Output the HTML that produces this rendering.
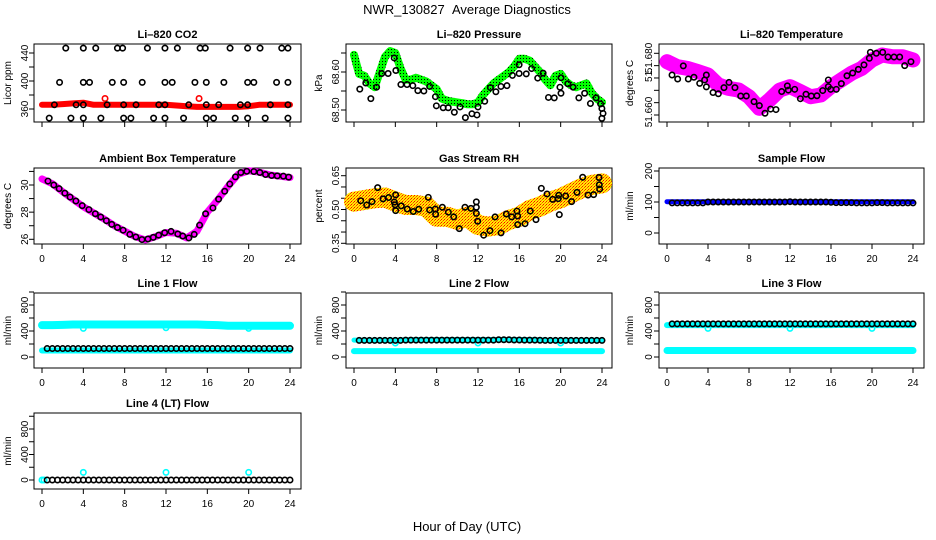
<!DOCTYPE html>
<html><head><meta charset="utf-8"><style>
body{margin:0;background:#fff;}
svg{display:block;font-family:"Liberation Sans",sans-serif;}
</style></head><body>
<svg id="chart" width="936" height="540" viewBox="0 0 936 540" xmlns="http://www.w3.org/2000/svg">
<defs>
<pattern id="greenDots" width="3" height="3" patternUnits="userSpaceOnUse"><rect width="3" height="3" fill="#00ff00"/><rect x="1" y="1" width="1" height="1" fill="#000"/></pattern>
<pattern id="orangeDots" width="3" height="3" patternUnits="userSpaceOnUse"><rect width="3" height="3" fill="#ffee00"/><rect x="0" y="0" width="1" height="1" fill="#ff0000"/><rect x="2" y="1" width="1" height="1" fill="#ff4000"/><rect x="1" y="2" width="1" height="1" fill="#ff8000"/></pattern>
</defs>
<rect width="936" height="540" fill="#fff"/>
<text x="467" y="14" text-anchor="middle" font-size="13">NWR_130827&#160;&#160;Average Diagnostics</text>
<text x="467" y="531" text-anchor="middle" font-size="13">Hour of Day (UTC)</text>
</svg>
<script>
// ---------- data ----------
const bandHours = [0,1,2,3,4,5,6,7,8,9,10,11,12,13,14,15,16,17,18,19,20,21,22,23,24];
const halfHours = [0,0.5,1,1.5,2,2.5,3,3.5,4,4.5,5,5.5,6,6.5,7,7.5,8,8.5,9,9.5,10,10.5,11,11.5,12,12.5,13,13.5,14,14.5,15,15.5,16,16.5,17,17.5,18,18.5,19,19.5,20,20.5,21,21.5,22,22.5,23,23.5,24];
const flowT = [0.5,1,1.5,2,2.5,3,3.5,4,4.5,5,5.5,6,6.5,7,7.5,8,8.5,9,9.5,10,10.5,11,11.5,12,12.5,13,13.5,14,14.5,15,15.5,16,16.5,17,17.5,18,18.5,19,19.5,20,20.5,21,21.5,22,22.5,23,23.5,24];

const co2BlackH = [2.3,4.0,5.2,7.3,7.8,10.2,11.9,13.1,15.3,15.8,18.2,19.9,21.1,23.2,23.8, 1.7,4.0,4.6,6.8,7.9,9.7,11.9,12.6,14.8,15.9,17.6,19.9,20.5,22.7,23.8, 1.2,3.3,4.0,6.3,7.9,9.1,11.3,11.9,14.2,15.9,17.1,19.2,19.9,22.1,23.8, 0.7,2.8,4.0,5.7,7.9,8.6,10.8,11.9,13.7,15.9,16.6,18.7,19.9,21.6,23.8];
const co2BlackV = [447,447,447,447,447,447,447,447,447,447,447,447,447,447,447, 398,398,398,398,398,398,398,398,398,398,398,398,398,398,398, 366,366,366,366,366,366,366,366,366,366,366,366,366,366,366, 347,347,347,347,347,347,347,347,347,347,347,347,347,347,347];
const co2Red = [366,366,367,368,369,366,366,366,366,366,366,366,366,365,364,363,363,363,363,363,364,366,366,366,366];
const co2RedOutH = [6.1,15.2];
const co2RedOutV = [375,375];

const presGreen = [68.645,68.595,68.590,68.570,68.560,68.600,68.640,68.655,68.650,68.610,68.580,68.580,68.585,68.580,68.575,68.565,68.555,68.530,68.525,68.522,68.520,68.518,68.515,68.515,68.520,68.540,68.555,68.570,68.580,68.590,68.600,68.615,68.635,68.635,68.630,68.615,68.600,68.580,68.565,68.590,68.595,68.575,68.565,68.560,68.565,68.570,68.545,68.530,68.520];
const presBlackH = [0.56,1.14,1.63,2.19,2.68,3.30,3.89,4.05,4.54,5.13,5.69,6.18,6.76,7.32,7.88,7.97,8.63,9.12,9.71,10.26,10.78,11.41,11.90,12.0,12.65,13.2,13.73,14.22,14.8,15.33,15.98,15.98,16.67,17.19,17.78,18.3,18.82,19.38,19.93,20.03,20.03,20.69,21.2,21.76,22.32,22.88,23.43,23.86,23.99,24.1,23.99];
const presBlackV = [68.555,68.571,68.530,68.560,68.596,68.596,68.637,68.604,68.567,68.567,68.564,68.551,68.550,68.562,68.535,68.511,68.506,68.506,68.494,68.508,68.480,68.490,68.487,68.508,68.523,68.559,68.548,68.562,68.564,68.591,68.619,68.596,68.595,68.609,68.584,68.597,68.533,68.532,68.560,68.585,68.544,68.569,68.560,68.532,68.544,68.517,68.532,68.516,68.504,68.491,68.478];

const tempMag = [51.6766,51.6746,51.6739,51.6726,51.6712,51.6672,51.6658,51.6651,51.6624,51.6577,51.6611,51.6651,51.6665,51.6645,51.6624,51.6631,51.6665,51.6692,51.6719,51.6739,51.6773,51.6793,51.6786,51.6786,51.6773];
const tempBlackH = [0.49,1.04,1.59,2.08,2.63,3.19,3.67,3.84,3.84,4.49,5.01,5.56,6.05,6.63,7.19,7.74,8.49,9.01,9.56,10.11,10.63,11.19,11.74,11.84,12.46,13.01,13.56,14.08,14.63,15.19,15.74,15.74,15.97,16.52,17.01,17.56,18.11,18.67,19.22,19.74,19.84,20.42,21.04,21.56,22.15,22.70,23.19,23.80];
const tempBlackV = [51.6712,51.6696,51.6749,51.6696,51.6703,51.6678,51.6692,51.6712,51.6664,51.6641,51.6636,51.6661,51.6682,51.6661,51.6627,51.6627,51.6604,51.6588,51.6557,51.6574,51.6572,51.6645,51.6668,51.6651,51.6654,51.6616,51.6634,51.6627,51.6628,51.6649,51.6692,51.6665,51.6654,51.6654,51.6677,51.6709,51.6720,51.6735,51.6753,51.6780,51.6804,51.6800,51.6804,51.6785,51.6785,51.6785,51.6750,51.6766];

const ambMag = [30.45,30.1,29.5,28.95,28.4,27.95,27.5,27.0,26.6,26.2,25.95,26.2,26.5,26.45,26.1,26.6,28.0,28.9,29.9,30.8,31.05,30.95,30.75,30.65,30.55];
const ambBlackH = [0.58,1.14,1.66,2.21,2.72,3.28,3.89,4.54,5.16,5.68,6.23,6.75,7.30,7.85,8.50,9.08,9.67,10.25,10.77,11.29,11.87,12.49,13.14,13.62,14.21,14.73,15.25,15.83,16.54,17.09,17.68,18.17,18.72,19.24,19.82,20.50,21.08,21.63,22.22,22.77,23.36,23.87];
const ambBlackV = [30.29,30.00,29.73,29.40,29.11,28.82,28.48,28.19,27.88,27.64,27.37,27.10,26.87,26.67,26.36,26.17,25.98,26.02,26.14,26.31,26.48,26.58,26.39,26.24,26.10,26.36,27.04,27.88,28.31,28.96,29.54,30.07,30.60,30.92,31.01,30.99,30.92,30.77,30.70,30.67,30.65,30.58];

const rhOrange = [0.535,0.542,0.550,0.553,0.535,0.520,0.520,0.513,0.468,0.468,0.454,0.468,0.431,0.424,0.431,0.454,0.468,0.498,0.513,0.535,0.550,0.572,0.594,0.609,0.616];
const rhBlackH = [0.65,1.23,1.74,2.29,2.81,3.35,3.90,3.97,4.03,4.03,4.58,5.16,5.74,6.26,7.19,7.32,7.87,7.90,8.55,9.13,9.65,10.19,10.74,11.32,11.84,11.84,11.84,11.97,12.55,13.16,13.65,14.23,14.74,15.26,15.77,15.84,15.84,16.55,17.06,17.61,18.13,18.68,19.23,19.77,19.81,19.87,20.48,21.06,21.58,22.13,22.65,23.19,23.71,23.74,23.77];
const rhBlackV = [0.539,0.520,0.535,0.597,0.547,0.553,0.533,0.521,0.565,0.495,0.516,0.502,0.491,0.501,0.554,0.498,0.502,0.479,0.510,0.488,0.467,0.415,0.510,0.505,0.510,0.534,0.483,0.448,0.386,0.406,0.467,0.396,0.480,0.467,0.493,0.471,0.433,0.437,0.493,0.455,0.594,0.569,0.545,0.548,0.563,0.477,0.560,0.535,0.576,0.643,0.564,0.566,0.642,0.610,0.591];

const sampleBlue = [101,101,101,101,101,101,101,101,101,101,101,101,101,101,101,101,101,101,101,101,101,101,101,101,101];
const sampleBlack = [97,97,97,97,97,97,97,100,100,100,100,100,100,100,100,100,100,100,100,100,100,100,100,101,100,100,100,100,100,100,100,99,98,98,98,98,97,97,97,97,98,98,97,97,97,97,97,97];

const line1Upper = [490,490,495,500,500,500,500,500,500,500,500,500,500,500,500,500,495,490,480,480,480,480,480,480,480];
const line1Lower = [100,100,100,100,100,100,100,100,100,100,100,100,100,100,100,100,100,100,100,100,100,100,100,100,100];
const line1Black = [130,130,130,130,130,130,130,130,130,130,130,130,130,130,130,130,130,130,130,130,130,130,130,130,130,130,130,130,130,130,130,130,130,130,130,130,130,130,130,130,130,130,130,130,130,130,130,130];
const line1OutH = [4,12,20];
const line1OutV = [440,450,440];

const line2Upper = [260,260,260,260,260,265,270,270,270,270,270,270,270,270,270,270,270,270,265,260,260,260,260,260,260];
const line2Lower = [90,90,90,90,90,90,90,90,90,90,90,90,90,90,90,90,90,90,90,90,90,90,90,90,90];
const line2Black = [255,255,255,255,255,255,255,255,255,260,260,260,260,260,260,260,260,260,260,260,260,260,260,260,260,260,260,265,265,265,262,262,260,260,260,258,255,255,255,255,255,255,255,255,255,255,255,255];
const line2OutH = [4,12,20];
const line2OutV = [215,215,215];

const line3Upper = [490,490,490,490,490,490,490,490,490,490,490,490,490,490,490,490,490,495,490,490,490,490,490,490,490];
const line3Lower = [100,100,100,100,100,100,100,100,100,100,100,100,100,100,100,100,100,100,100,100,100,100,100,100,100];
const line3Black = [510,510,510,510,510,510,510,510,510,510,510,510,510,510,510,510,510,510,510,510,510,510,510,510,510,510,510,510,510,510,510,510,510,510,510,510,510,510,510,510,510,510,510,510,510,510,510,510];
const line3OutH = [4,12,20];
const line3OutV = [440,440,440];

const line4Black = [0,0,0,0,0,0,0,0,0,0,0,0,0,0,0,0,0,0,0,0,0,0,0,0,0,0,0,0,0,0,0,0,0,0,0,0,0,0,0,0,0,0,0,0,0,0,0,0];
const line4CyanH = [0,0.2,4,12,20];
const line4CyanV = [0,0,120,120,120];

const xTicks = [0,4,8,12,16,20,24];

// ---------- drawing ----------
const NS = 'http://www.w3.org/2000/svg';
const svg = document.getElementById('chart');
function el(tag, parent){ const e=document.createElementNS(NS,tag); parent.appendChild(e); return e; }

function panel(p){
  const g = el('g', svg);
  
  
  const sx = h => p.x0 + h*(p.x24-p.x0)/24;
  const sy = v => p.yp1 + (v-p.yv1)*(p.yp2-p.yp1)/(p.yv2-p.yv1);
  const box = el('rect', g);
  box.setAttribute('x', p.bl); box.setAttribute('y', p.bt);
  box.setAttribute('width', p.br-p.bl); box.setAttribute('height', p.bb-p.bt);
  box.setAttribute('fill','none'); box.setAttribute('stroke','#000'); box.setAttribute('stroke-width','1');
  
  
  const t = el('text', g);
  t.textContent = p.title;
  t.setAttribute('x', (p.bl+p.br)/2); t.setAttribute('y', p.bt-6);
  t.setAttribute('text-anchor','middle'); t.setAttribute('font-size','11'); t.setAttribute('font-weight','bold');
  
  
  const yl = el('text', g);
  yl.textContent = p.ylab;
  yl.setAttribute('transform', 'translate(' + p.ylabx + ',' + ((p.bt+p.bb)/2) + ') rotate(-90)');
  yl.setAttribute('text-anchor','middle'); yl.setAttribute('font-size','10');
  
  
  xTicks.forEach(h => {
    const l = el('line', g);
    l.setAttribute('x1', sx(h)); l.setAttribute('x2', sx(h));
    l.setAttribute('y1', p.bb); l.setAttribute('y2', p.bb+5); l.setAttribute('stroke','#000');
    
    
    if (p.xlabels){
      const tl = el('text', g);
      tl.textContent = h;
      tl.setAttribute('x', sx(h)); tl.setAttribute('y', p.bb+18);
      tl.setAttribute('text-anchor','middle'); tl.setAttribute('font-size','10');
      
      
    }
  });
  p.ticks.forEach(v => {
    const l = el('line', g);
    l.setAttribute('x1', p.bl-5); l.setAttribute('x2', p.bl);
    l.setAttribute('y1', sy(v)); l.setAttribute('y2', sy(v)); l.setAttribute('stroke','#000');
    
    
  });
  p.labels.forEach((s,i) => {
    const tl = el('text', g);
    tl.textContent = s;
    const yy = p.labelY ? p.labelY[i] : sy(parseFloat(s));
    tl.setAttribute('transform', 'translate(' + p.labx + ',' + yy + ') rotate(-90)');
    tl.setAttribute('text-anchor','middle'); tl.setAttribute('font-size','10');
    
    
  });
  return {g, sx, sy};
}
function band(P, hs, vs, color, width, name){
  const pl = el('polyline', P.g);
  pl.setAttribute('points', hs.map((h,i)=>P.sx(h)+','+P.sy(vs[i])).join(' '));
  pl.setAttribute('fill','none'); pl.setAttribute('stroke', color); pl.setAttribute('stroke-width', width);
  pl.setAttribute('stroke-linecap','round'); pl.setAttribute('stroke-linejoin','round');
  
  
}
function pts(P, hs, vs, color, name, r){
  hs.forEach((h,i) => {
    const c = el('circle', P.g);
    c.setAttribute('cx', P.sx(h)); c.setAttribute('cy', P.sy(vs[i]));
    c.setAttribute('r', r||2.7); c.setAttribute('fill','none'); c.setAttribute('stroke', color); c.setAttribute('stroke-width','1.6');
    
    
  });
}
const C1={bl:34,br:301,x0:42,x24:290,labx:28,ylabx:11};
const C2={bl:346,br:612,x0:354,x24:602,labx:339,ylabx:322};
const C3={bl:659,br:924,x0:667,x24:913,labx:652,ylabx:633};
const R1={bt:44,bb:122}, R2={bt:168,bb:244}, R3={bt:293,bb:368}, R4={bt:413,bb:489};
const flowTicks=[0,200,400,600,800,1000];

// CO2
let P = panel(Object.assign({name:'co2',title:'Li\u2013820 CO2',ylab:'Licor ppm',yv1:440,yp1:53,yv2:360,yp2:109,ticks:[360,380,400,420,440],labels:['360','400','440'],xlabels:false},C1,R1));
band(P, bandHours, co2Red, '#ff0000', 6, 'co2-red-series');
pts(P, co2RedOutH, co2RedOutV, '#ff0000', 'co2-red-point');
pts(P, co2BlackH, co2BlackV, '#000', 'co2-average-point');

// Pressure
P = panel(Object.assign({name:'pressure',title:'Li\u2013820 Pressure',ylab:'kPa',yv1:68.60,yp1:72,yv2:68.50,yp2:110,ticks:[68.50,68.55,68.60,68.65],labels:['68.50','68.60'],xlabels:false},C2,R1));
band(P, halfHours, presGreen, 'url(#greenDots)', 8, 'pressure-green-series');
pts(P, presBlackH, presBlackV, '#000', 'pressure-average-point');

// Temperature
P = panel(Object.assign({name:'li820-temperature',title:'Li\u2013820 Temperature',ylab:'degrees C',yv1:51.680,yp1:53.3,yv2:51.655,yp2:115,ticks:[51.655,51.660,51.665,51.670,51.675,51.680],labels:['51.660','51.','51.680'],labelY:[112,75,58],xlabels:false},C3,R1));
band(P, bandHours, tempMag, '#ff00ff', 15, 'temperature-magenta-series');
pts(P, tempBlackH, tempBlackV, '#000', 'temperature-average-point');

// Ambient
P = panel(Object.assign({name:'ambient-box-temperature',title:'Ambient Box Temperature',ylab:'degrees C',yv1:30,yp1:185,yv2:26,yp2:239.3,ticks:[26,27,28,29,30,31],labels:['26','28','30'],xlabels:true},C1,R2));
band(P, bandHours, ambMag, '#ff00ff', 7, 'ambient-magenta-series');
pts(P, ambBlackH, ambBlackV, '#000', 'ambient-average-point');

// RH
P = panel(Object.assign({name:'gas-stream-rh',title:'Gas Stream RH',ylab:'percent',yv1:0.65,yp1:175.7,yv2:0.35,yp2:243.3,ticks:[0.35,0.40,0.45,0.50,0.55,0.60,0.65],labels:['0.35','0.50','0.65'],xlabels:true},C2,R2));
band(P, bandHours, rhOrange, 'url(#orangeDots)', 20, 'rh-orange-series');
pts(P, rhBlackH, rhBlackV, '#000', 'rh-average-point');

// Sample flow
P = panel(Object.assign({name:'sample-flow',title:'Sample Flow',ylab:'ml/min',yv1:0,yp1:233,yv2:200,yp2:171,ticks:[0,50,100,150,200],labels:['0','100','200'],xlabels:true},C3,R2));
band(P, bandHours, sampleBlue, '#0000ff', 5, 'sample-flow-blue-series');
pts(P, flowT, sampleBlack, '#000', 'sample-flow-average-point');

// Line 1
P = panel(Object.assign({name:'line1-flow',title:'Line 1 Flow',ylab:'ml/min',yv1:0,yp1:357,yv2:800,yp2:305,ticks:flowTicks,labels:['0','400','800'],xlabels:true},C1,R3));
band(P, bandHours, line1Upper, '#00ffff', 8, 'line1-upper-series');
band(P, bandHours, line1Lower, '#00ffff', 6, 'line1-lower-series');
pts(P, line1OutH, line1OutV, '#00ffff', 'line1-cyan-point');
pts(P, flowT, line1Black, '#000', 'line1-average-point');

// Line 2
P = panel(Object.assign({name:'line2-flow',title:'Line 2 Flow',ylab:'ml/min',yv1:0,yp1:357,yv2:800,yp2:305,ticks:flowTicks,labels:['0','400','800'],xlabels:true},C2,R3));
band(P, bandHours, line2Upper, '#00ffff', 5, 'line2-upper-series');
band(P, bandHours, line2Lower, '#00ffff', 6, 'line2-lower-series');
pts(P, line2OutH, line2OutV, '#00ffff', 'line2-cyan-point');
pts(P, flowT, line2Black, '#000', 'line2-average-point');

// Line 3
P = panel(Object.assign({name:'line3-flow',title:'Line 3 Flow',ylab:'ml/min',yv1:0,yp1:357,yv2:800,yp2:305,ticks:flowTicks,labels:['0','400','800'],xlabels:true},C3,R3));
band(P, bandHours, line3Upper, '#00ffff', 6, 'line3-upper-series');
band(P, bandHours, line3Lower, '#00ffff', 7, 'line3-lower-series');
pts(P, line3OutH, line3OutV, '#00ffff', 'line3-cyan-point');
pts(P, flowT, line3Black, '#000', 'line3-average-point');

// Line 4
P = panel(Object.assign({name:'line4-flow',title:'Line 4 (LT) Flow',ylab:'ml/min',yv1:0,yp1:480,yv2:800,yp2:429,ticks:flowTicks,labels:['0','400','800'],xlabels:true},C1,R4));
pts(P, line4CyanH, line4CyanV, '#00ffff', 'line4-cyan-point');
pts(P, flowT, line4Black, '#000', 'line4-average-point');
</script>
</body></html>
